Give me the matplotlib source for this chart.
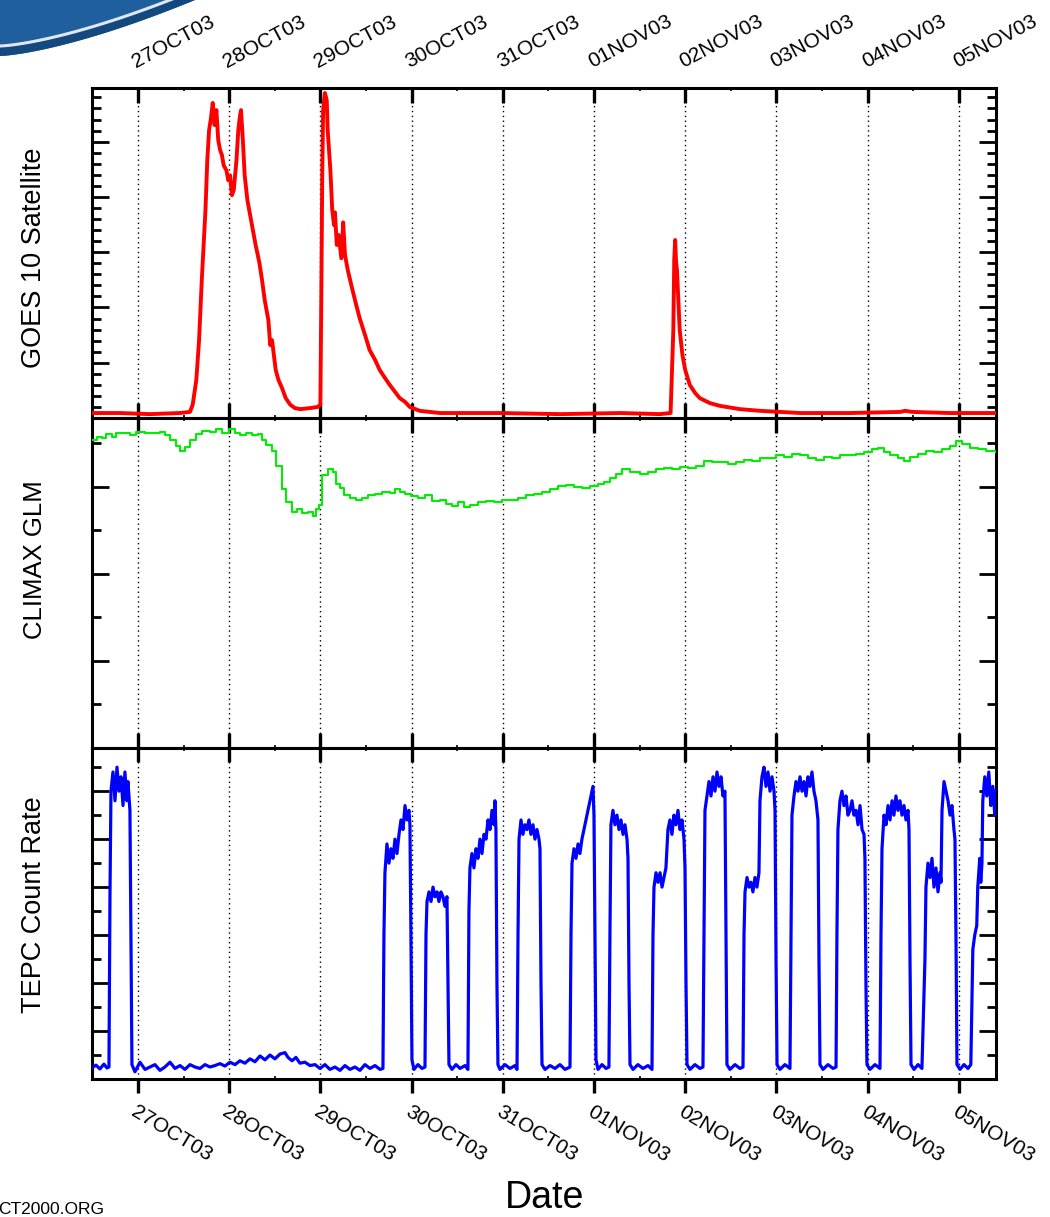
import numpy as np
import matplotlib
matplotlib.use('Agg')
from matplotlib import pyplot as plt
from matplotlib import lines as mlines
from matplotlib.patches import Polygon
from matplotlib.ticker import MultipleLocator

plt.rcParams['font.family'] = ['Liberation Sans', 'DejaVu Sans']

# time axis: days since 27OCT03 00:00
DAY_LABELS = ['27OCT03', '28OCT03', '29OCT03', '30OCT03', '31OCT03',
              '01NOV03', '02NOV03', '03NOV03', '04NOV03', '05NOV03']
T_START = -0.504
T_END = 9.408

# GOES 10 proton flux (arbitrary linear units)
goes_t = [-0.50, -0.20, 0.13, 0.46, 0.57, 0.60, 0.64, 0.67, 0.70, 0.74,
          0.76, 0.78, 0.80, 0.82, 0.84, 0.86, 0.88, 0.90, 0.92, 0.94,
          0.97, 0.99, 1.01, 1.03, 1.05, 1.08, 1.10, 1.12, 1.13, 1.15,
          1.17, 1.20, 1.23, 1.26, 1.29, 1.33, 1.36, 1.39, 1.43, 1.45,
          1.47, 1.49, 1.51, 1.54, 1.58, 1.62, 1.67, 1.72, 1.78, 1.89,
          1.97, 2.00, 2.01, 2.02, 2.03, 2.05, 2.07, 2.08, 2.11, 2.13,
          2.15, 2.16, 2.18, 2.20, 2.23, 2.25, 2.27, 2.30, 2.34, 2.38,
          2.43, 2.49, 2.54, 2.60, 2.65, 2.71, 2.76, 2.82, 2.87, 2.93,
          2.98, 3.09, 3.31, 3.97, 4.63, 5.29, 5.72, 5.84, 5.87, 5.88,
          5.89, 5.90, 5.91, 5.92, 5.94, 5.97, 6.00, 6.05, 6.11, 6.16,
          6.27, 6.38, 6.60, 6.82, 7.26, 7.81, 8.36, 8.41, 8.49, 8.90, 9.41]
goes_v = [0.09, 0.09, 0.07, 0.09, 0.11, 0.24, 0.69, 1.41, 2.50, 3.76,
          4.66, 5.21, 5.42, 5.70, 5.30, 5.57, 5.03, 4.85, 4.76, 4.57,
          4.48, 4.30, 4.39, 4.03, 4.12, 4.66, 5.21, 5.48, 5.57, 5.03,
          4.39, 3.94, 3.67, 3.40, 3.13, 2.82, 2.50, 2.13, 1.77, 1.32,
          1.41, 1.14, 0.87, 0.69, 0.54, 0.36, 0.24, 0.18, 0.16, 0.18,
          0.20, 0.24, 2.13, 4.30, 5.57, 5.88, 5.75, 5.21, 4.48, 3.76,
          3.49, 3.72, 3.13, 3.31, 2.89, 3.54, 2.95, 2.68, 2.40, 2.13,
          1.81, 1.50, 1.23, 1.05, 0.87, 0.72, 0.60, 0.47, 0.36, 0.29,
          0.20, 0.13, 0.09, 0.09, 0.07, 0.09, 0.07, 0.09, 1.59, 2.86,
          3.22, 2.82, 2.68, 2.31, 1.59, 1.14, 0.87, 0.60, 0.45, 0.36,
          0.27, 0.22, 0.16, 0.13, 0.09, 0.09, 0.11, 0.13, 0.11, 0.09, 0.09]

# CLIMAX neutron monitor (arbitrary units)
climax_t = [-0.50, -0.45, -0.39, -0.35, -0.29, -0.24, -0.15, -0.09, -0.02, 0.08,
            0.24, 0.30, 0.35, 0.42, 0.46, 0.52, 0.57, 0.64, 0.70, 0.79,
            0.86, 0.92, 1.00, 1.06, 1.12, 1.18, 1.25, 1.32, 1.36, 1.40,
            1.47, 1.51, 1.58, 1.62, 1.69, 1.74, 1.80, 1.86, 1.92, 1.95,
            1.99, 2.02, 2.08, 2.14, 2.17, 2.21, 2.26, 2.32, 2.39, 2.46,
            2.52, 2.60, 2.68, 2.76, 2.82, 2.87, 2.93, 2.99, 3.07, 3.15,
            3.22, 3.31, 3.38, 3.44, 3.51, 3.57, 3.64, 3.73, 3.82, 3.90,
            3.99, 4.08, 4.17, 4.25, 4.34, 4.43, 4.52, 4.61, 4.69, 4.78,
            4.87, 4.96, 5.04, 5.11, 5.18, 5.24, 5.31, 5.40, 5.50, 5.59,
            5.68, 5.77, 5.86, 5.94, 6.03, 6.12, 6.21, 6.29, 6.38, 6.47,
            6.56, 6.64, 6.73, 6.82, 6.91, 7.00, 7.08, 7.17, 7.26, 7.35,
            7.43, 7.52, 7.61, 7.70, 7.79, 7.87, 7.96, 8.05, 8.11, 8.18,
            8.25, 8.33, 8.40, 8.46, 8.55, 8.64, 8.73, 8.82, 8.90, 8.97,
            9.04, 9.12, 9.21, 9.30, 9.41]
climax_v = [3.54, 3.57, 3.56, 3.61, 3.57, 3.62, 3.62, 3.59, 3.63, 3.62,
            3.63, 3.59, 3.54, 3.47, 3.41, 3.46, 3.54, 3.61, 3.64, 3.63,
            3.66, 3.62, 3.66, 3.62, 3.60, 3.62, 3.59, 3.61, 3.54, 3.48,
            3.41, 3.24, 2.97, 2.82, 2.71, 2.75, 2.70, 2.71, 2.67, 2.74,
            2.79, 3.13, 3.20, 3.17, 3.03, 2.99, 2.91, 2.87, 2.85, 2.87,
            2.90, 2.92, 2.94, 2.93, 2.97, 2.94, 2.92, 2.89, 2.87, 2.90,
            2.84, 2.85, 2.80, 2.78, 2.82, 2.77, 2.79, 2.82, 2.84, 2.83,
            2.85, 2.85, 2.87, 2.90, 2.92, 2.94, 2.97, 3.01, 3.02, 3.00,
            2.99, 3.01, 3.03, 3.06, 3.10, 3.15, 3.20, 3.17, 3.15, 3.17,
            3.20, 3.22, 3.20, 3.23, 3.22, 3.24, 3.30, 3.28, 3.29, 3.26,
            3.29, 3.31, 3.30, 3.33, 3.33, 3.36, 3.34, 3.38, 3.36, 3.33,
            3.31, 3.34, 3.33, 3.36, 3.37, 3.38, 3.40, 3.43, 3.45, 3.40,
            3.36, 3.33, 3.30, 3.34, 3.38, 3.41, 3.40, 3.43, 3.47, 3.53,
            3.49, 3.45, 3.43, 3.41, 3.40]

# TEPC count rate (arbitrary units), one line per orbit pass / gap
tepc_t = [
    -0.504, -0.461, -0.417, -0.373, -0.340, -0.318, -0.307, -0.296, -0.274, -0.252,
    -0.230, -0.208, -0.186, -0.164, -0.143, -0.121, -0.110, -0.088, -0.077, -0.066,
    -0.033, 0.022, 0.077, 0.132, 0.186, 0.241, 0.296, 0.351, 0.406, 0.461,
    0.515, 0.570, 0.625, 0.680, 0.735, 0.789, 0.844, 0.899, 0.954, 1.009,
    1.064, 1.118, 1.173, 1.228, 1.283, 1.338, 1.393, 1.447, 1.502, 1.557,
    1.612, 1.645, 1.689, 1.732, 1.776, 1.831, 1.886, 1.941, 1.996, 2.050,
    2.105, 2.160, 2.215, 2.270, 2.325, 2.379, 2.434, 2.489, 2.544, 2.599, 2.654, 2.686,
    2.697, 2.708, 2.730, 2.752, 2.774, 2.796, 2.818, 2.840, 2.862, 2.884, 2.906, 2.928, 2.950, 2.971, 2.982, 2.993, 3.004,
    3.026, 3.070, 3.114, 3.147,
    3.158, 3.169, 3.191, 3.213, 3.235, 3.257, 3.279, 3.300, 3.322, 3.344, 3.366, 3.388, 3.399, 3.410,
    3.443, 3.487, 3.531, 3.586, 3.618,
    3.629, 3.640, 3.662, 3.684, 3.706, 3.728, 3.750, 3.772, 3.794, 3.816, 3.838, 3.860, 3.882, 3.904, 3.914, 3.925, 3.936, 3.947,
    3.969, 4.024, 4.079, 4.134, 4.156,
    4.167, 4.178, 4.200, 4.221, 4.243, 4.265, 4.287, 4.309, 4.331, 4.353, 4.375, 4.397, 4.408, 4.419, 4.430,
    4.463, 4.518, 4.572, 4.627, 4.682, 4.737,
    4.748, 4.759, 4.781, 4.803, 4.825, 4.846, 4.868, 4.890, 4.912, 4.934, 4.956, 4.978, 4.989, 5.000, 5.011, 5.022,
    5.044, 5.088, 5.132, 5.164,
    5.175, 5.186, 5.208, 5.230, 5.252, 5.274, 5.296, 5.318, 5.340, 5.362, 5.373, 5.384, 5.395,
    5.428, 5.482, 5.537, 5.592, 5.636,
    5.647, 5.658, 5.680, 5.702, 5.724, 5.746, 5.768, 5.789, 5.811, 5.833, 5.855, 5.877, 5.899, 5.921, 5.943, 5.965, 5.987, 5.998, 6.009, 6.020,
    6.053, 6.107, 6.162, 6.195,
    6.206, 6.217, 6.239, 6.261, 6.283, 6.305, 6.327, 6.349, 6.371, 6.393, 6.414, 6.436, 6.447, 6.458,
    6.491, 6.546, 6.601, 6.634,
    6.645, 6.656, 6.678, 6.700, 6.721, 6.743, 6.765, 6.787, 6.809, 6.820, 6.842, 6.864, 6.886, 6.908, 6.930, 6.952, 6.974, 6.985, 6.996, 7.007,
    7.039, 7.094, 7.149,
    7.160, 7.171, 7.193, 7.215, 7.237, 7.259, 7.281, 7.303, 7.325, 7.346, 7.368, 7.390, 7.412, 7.434, 7.456, 7.467, 7.478,
    7.511, 7.566, 7.621, 7.654,
    7.664, 7.675, 7.697, 7.719, 7.741, 7.763, 7.785, 7.807, 7.829, 7.851, 7.873, 7.895, 7.917, 7.939, 7.961, 7.971, 7.982, 7.993,
    8.026, 8.081, 8.136,
    8.147, 8.158, 8.180, 8.202, 8.224, 8.246, 8.268, 8.289, 8.311, 8.333, 8.355, 8.377, 8.399, 8.421, 8.443, 8.454, 8.465, 8.476,
    8.509, 8.553, 8.596,
    8.629, 8.640, 8.662, 8.684, 8.706, 8.728, 8.750, 8.772, 8.794, 8.805, 8.816, 8.838, 8.860, 8.882, 8.904, 8.925, 8.947, 8.958, 8.969, 8.980,
    9.013, 9.057, 9.101, 9.132,
    9.143, 9.154, 9.175, 9.197, 9.208, 9.219, 9.230, 9.241, 9.254, 9.263, 9.285, 9.307, 9.329, 9.351, 9.373, 9.395, 9.408,
]
tepc_v = [
    0.23, 0.29, 0.21, 0.31, 0.23, 0.25, 3.8, 6.0, 6.4, 5.8,
    6.5, 6.0, 6.3, 5.7, 6.4, 5.8, 6.2, 5.6, 3.0, 0.3,
    0.15, 0.35, 0.2, 0.25, 0.3, 0.18, 0.25, 0.35, 0.22, 0.28,
    0.2, 0.3, 0.25, 0.22, 0.3, 0.25, 0.28, 0.32, 0.27, 0.35,
    0.3, 0.38, 0.33, 0.42, 0.36, 0.48, 0.40, 0.50, 0.42, 0.52,
    0.55, 0.45, 0.38, 0.45, 0.33, 0.35, 0.28, 0.3, 0.22, 0.3,
    0.2, 0.25, 0.18, 0.28, 0.2, 0.25, 0.18, 0.3, 0.22, 0.28, 0.2, 0.22,
    3.0, 4.3, 4.9, 4.5, 4.8, 4.6, 5.0, 4.7, 5.1, 5.4, 5.2, 5.7, 5.4, 5.6, 5.3, 3.0, 0.4,
    0.2, 0.3, 0.22, 0.25,
    3.0, 3.7, 3.9, 3.7, 4.0, 3.8, 3.9, 3.7, 3.9, 3.8, 3.6, 3.8, 2.0, 0.3,
    0.2, 0.3, 0.22, 0.28, 0.2,
    3.5, 4.4, 4.7, 4.4, 4.8, 4.6, 5.0, 4.7, 5.1, 5.0, 5.4, 5.2, 5.6, 5.3, 5.8, 5.2, 2.0, 0.3,
    0.2, 0.3, 0.22, 0.28, 0.2,
    3.0, 5.0, 5.4, 5.1, 5.3, 5.2, 5.4, 5.1, 5.3, 5.0, 5.2, 5.0, 4.8, 2.0, 0.3,
    0.2, 0.28, 0.22, 0.3, 0.2, 0.25,
    3.0, 4.5, 4.8, 4.6, 4.9, 4.7, 5.0, 5.2, 5.4, 5.6, 5.8, 6.0, 6.1, 5.5, 3.0, 0.4,
    0.2, 0.3, 0.22, 0.25,
    3.0, 5.3, 5.6, 5.3, 5.5, 5.2, 5.4, 5.1, 5.3, 5.0, 4.6, 2.0, 0.3,
    0.2, 0.3, 0.22, 0.28, 0.2,
    3.0, 4.0, 4.3, 4.1, 4.3, 4.0, 4.2, 4.4, 5.2, 5.4, 5.1, 5.5, 5.3, 5.6, 5.2, 5.4, 5.0, 4.4, 2.0, 0.3,
    0.2, 0.3, 0.22, 0.25,
    3.0, 5.6, 5.9, 6.2, 5.9, 6.3, 6.0, 6.4, 6.1, 6.3, 5.9, 6.0, 3.0, 0.3,
    0.2, 0.3, 0.22, 0.25,
    3.0, 3.9, 4.2, 4.0, 4.1, 3.9, 4.2, 4.0, 4.3, 5.8, 6.3, 6.5, 6.1, 6.4, 6.0, 6.3, 6.0, 5.6, 2.5, 0.3,
    0.2, 0.3, 0.22,
    3.0, 5.5, 5.9, 6.2, 6.0, 6.3, 6.0, 6.2, 5.9, 6.3, 6.1, 6.4, 6.0, 5.8, 5.4, 2.5, 0.3,
    0.2, 0.3, 0.22, 0.25,
    3.0, 5.2, 5.8, 6.0, 5.7, 5.9, 5.5, 5.6, 5.8, 5.5, 5.6, 5.3, 5.7, 5.2, 5.1, 4.6, 2.0, 0.3,
    0.2, 0.3, 0.22,
    3.0, 4.8, 5.5, 5.3, 5.7, 5.4, 5.8, 5.5, 5.9, 5.6, 5.8, 5.5, 5.7, 5.4, 5.6, 5.2, 2.5, 0.3,
    0.2, 0.3, 0.22,
    2.5, 4.0, 4.5, 4.2, 4.6, 4.0, 4.4, 3.9, 4.3, 4.1, 5.6, 6.2, 6.0, 5.8, 5.5, 5.7, 5.2, 5.0, 3.0, 0.3,
    0.2, 0.3, 0.22, 0.3,
    1.5, 2.7, 3.0, 3.2, 4.0, 4.3, 4.6, 4.1, 4.5, 5.8, 6.3, 5.9, 6.4, 5.7, 6.1, 5.5, 6.0,
]


fig = plt.figure(figsize=(10.5, 12.17), dpi=100)

left, width = 92 / 1050, 904 / 1050
ax_goes = fig.add_axes([left, 1 - 418 / 1217, width, 330 / 1217])
ax_clim = fig.add_axes([left, 1 - 748 / 1217, width, 330 / 1217])
ax_tepc = fig.add_axes([left, 1 - 1079 / 1217, width, 331 / 1217])

ax_goes.plot(goes_t, goes_v, color='#ff0000', lw=2.8, zorder=3)
ax_clim.plot(climax_t, climax_v, color='#00ee00', lw=1.5, drawstyle='steps-post', zorder=3)
ax_tepc.plot(tepc_t, tepc_v, color='#0000ff', lw=2.3, zorder=3)

ax_goes.set_ylim(0, 5.97)
ax_clim.set_ylim(0, 3.79)
ax_tepc.set_ylim(0, 6.9)

ax_goes.yaxis.set_major_locator(MultipleLocator(1))
ax_goes.yaxis.set_minor_locator(MultipleLocator(0.2))
ax_clim.yaxis.set_major_locator(MultipleLocator(1))
ax_clim.yaxis.set_minor_locator(MultipleLocator(0.5))
ax_tepc.yaxis.set_major_locator(MultipleLocator(1))
ax_tepc.yaxis.set_minor_locator(MultipleLocator(0.5))

for ax in (ax_goes, ax_clim, ax_tepc):
    ax.set_xlim(T_START, T_END)
    ax.set_xticks(range(len(DAY_LABELS)))
    ax.set_xticks(np.arange(0.5, 9.5, 1), minor=True)
    for sp in ax.spines.values():
        sp.set_linewidth(2.2)
    ax.tick_params(axis='y', which='major', direction='in', left=True, right=True,
                   length=12, width=2, labelleft=False)
    ax.tick_params(axis='y', which='minor', direction='in', left=True, right=True,
                   length=6.5, width=2)
    ax.tick_params(axis='x', which='major', direction='in', top=True, bottom=True,
                   length=11, width=2.4, labelbottom=False, labeltop=False)
    ax.tick_params(axis='x', which='minor', direction='in', top=True, bottom=True,
                   length=2.5, width=1.2)
    ax.grid(axis='x', which='major', color='black', linestyle=(0, (1, 2.5)), lw=1)

# date labels on top of the top panel
ax_goes.tick_params(axis='x', which='major', labeltop=True, pad=12, labelsize=15)
ax_goes.set_xticklabels(DAY_LABELS, rotation=28, ha='left', va='bottom',
                        rotation_mode='anchor')

# date labels below the bottom panel, with outward bottom ticks
ax_tepc.tick_params(axis='x', which='major', direction='out', labelbottom=True,
                    pad=7, labelsize=15, length=10)
ax_tepc.set_xticklabels(DAY_LABELS, rotation=-31, ha='left', va='top',
                        rotation_mode='anchor')
for tk in ax_tepc.xaxis.get_major_ticks():
    tk.tick2line.set_marker(mlines.TICKDOWN)

ax_goes.set_ylabel('GOES 10 Satellite', fontsize=19.5)
ax_clim.set_ylabel('CLIMAX GLM', fontsize=18.5)
ax_tepc.set_ylabel('TEPC Count Rate', fontsize=19.5)
ax_goes.yaxis.set_label_coords(-0.05, 0.485)
ax_clim.yaxis.set_label_coords(-0.05, 0.57)
ax_tepc.yaxis.set_label_coords(-0.05, 0.526)

fig.text(545 / 1050, 1 - 1198 / 1217, 'Date', ha='center', va='center', fontsize=27)
fig.text(-0.002, 1 - 1210 / 1217, 'CT2000.ORG', ha='left', va='center', fontsize=12.5)

# decorative blue swoosh in the top-left corner
sx = np.linspace(0, 195, 60)
sy = 56 * (1 - (sx / 195) ** 1.43)
to_fig = lambda x, y: np.column_stack([x / 1050, 1 - y / 1217])
outer = np.vstack([to_fig(sx, sy), to_fig(np.array([195, 0]), np.array([-1, -1]))])
fig.add_artist(Polygon(outer, closed=True, transform=fig.transFigure,
                       facecolor='#1f5f9e', edgecolor='none'))
band = np.vstack([to_fig(sx, sy), to_fig(sx[::-1], np.maximum(sy[::-1] - 9, -1))])
fig.add_artist(Polygon(band, closed=True, transform=fig.transFigure,
                       facecolor='#13497f', edgecolor='none'))
fig.add_artist(mlines.Line2D(sx / 1050, 1 - (sy - 10) / 1217, transform=fig.transFigure,
                             color='#dfe8f2', lw=2.2))

fig.savefig('out.png', dpi=100)
